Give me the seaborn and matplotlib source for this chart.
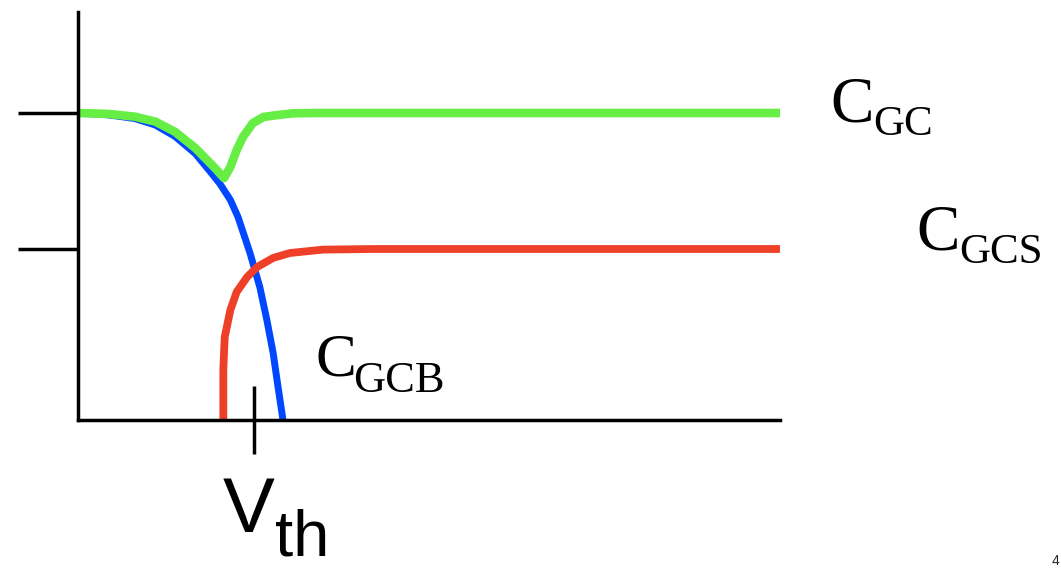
import matplotlib
matplotlib.use("Agg")
import matplotlib.pyplot as plt
import seaborn as sns

# Gate voltage (arbitrary units) and normalised capacitance for each component
v_gc = [0.0, 0.43, 0.81, 1.10, 1.38, 1.67, 1.95, 2.08, 2.17, 2.26, 2.35, 2.49,
        2.64, 2.83, 3.06, 3.40, 10.0]
c_gc = [1.0, 0.997, 0.988, 0.972, 0.939, 0.886, 0.821, 0.788, 0.824, 0.879, 0.922,
        0.967, 0.987, 0.993, 0.999, 1.0, 1.0]

v_gcb = [0.0, 0.43, 0.81, 1.10, 1.38, 1.67, 1.88, 2.02, 2.17, 2.28, 2.45, 2.59,
         2.69, 2.78, 2.85, 2.92]
c_gcb = [1.0, 0.994, 0.982, 0.961, 0.924, 0.868, 0.810, 0.770, 0.717, 0.661,
         0.544, 0.433, 0.326, 0.218, 0.107, 0.0]

v_gcs = [2.07, 2.07, 2.09, 2.17, 2.26, 2.41, 2.55, 2.78, 3.02, 3.49, 4.20, 10.0]
c_gcs = [0.0, 0.163, 0.270, 0.358, 0.417, 0.466, 0.498, 0.528, 0.544, 0.555,
         0.557, 0.557]

c_levels = [1.0, 0.557]   # C_ox and the saturated source component
v_th = [2.5]

sns.set_theme(style="white")
plt.rcParams["font.family"] = ["Liberation Serif", "DejaVu Serif"]

fig = plt.figure(figsize=(10.61, 5.69), dpi=100)
ax = fig.add_axes([78 / 1061, (569 - 420) / 569, (780 - 78) / 1061, (420 - 12) / 569])

sns.lineplot(x=v_gcb, y=c_gcb, sort=False, estimator=None, color="#0047FF",
             linewidth=5.0, solid_capstyle="butt", ax=ax, clip_on=False)
sns.lineplot(x=v_gcs, y=c_gcs, sort=False, estimator=None, color="#EE4028",
             linewidth=5.6, solid_capstyle="butt", ax=ax, clip_on=False)
sns.lineplot(x=v_gc, y=c_gc, sort=False, estimator=None, color="#66EE44",
             linewidth=6.2, solid_capstyle="butt", ax=ax, clip_on=False)

ax.set_xlim(0, 10)
ax.set_ylim(0, 1.329)
for side in ("top", "right"):
    ax.spines[side].set_visible(False)
for side in ("left", "bottom"):
    ax.spines[side].set_color("black")
    ax.spines[side].set_linewidth(2.5)

ax.set_yticks(c_levels)
ax.set_xticks(v_th)
ax.tick_params(axis="y", direction="out", length=43, width=2.5, color="black",
               left=True, labelleft=False)
ax.tick_params(axis="x", direction="inout", length=49, width=2.5, color="black",
               bottom=True, labelbottom=False)
ax.set_xlabel("")
ax.set_ylabel("")


def label(x, y, main, sub, dx, dy, size=47, subsize=31):
    ax.annotate(main, xy=(x, y), xycoords="figure pixels", fontsize=size,
                ha="left", va="baseline", color="black")
    ax.annotate(sub, xy=(x + dx, y - dy), xycoords="figure pixels", fontsize=subsize,
                ha="left", va="baseline", color="black")


label(830, 569 - 122, "C", "GC", 43, 13)
label(916, 569 - 250, "C", "GCS", 43, 13)
label(316, 569 - 375, "C", "GCB", 37, 17, size=44, subsize=32)

sans = ["Liberation Sans Narrow", "Liberation Sans", "DejaVu Sans"]
ax.annotate("V", xy=(223, 569 - 532), xycoords="figure pixels", fontsize=56,
            family=sans, ha="left", va="baseline", color="black")
ax.annotate("th", xy=(275, 569 - 556), xycoords="figure pixels", fontsize=47,
            family=sans, ha="left", va="baseline", color="black")
fig.text(1052 / 1061, 4 / 569, "4", fontsize=10, family=sans, ha="left", va="baseline")

fig.savefig("out.png", dpi=100)
